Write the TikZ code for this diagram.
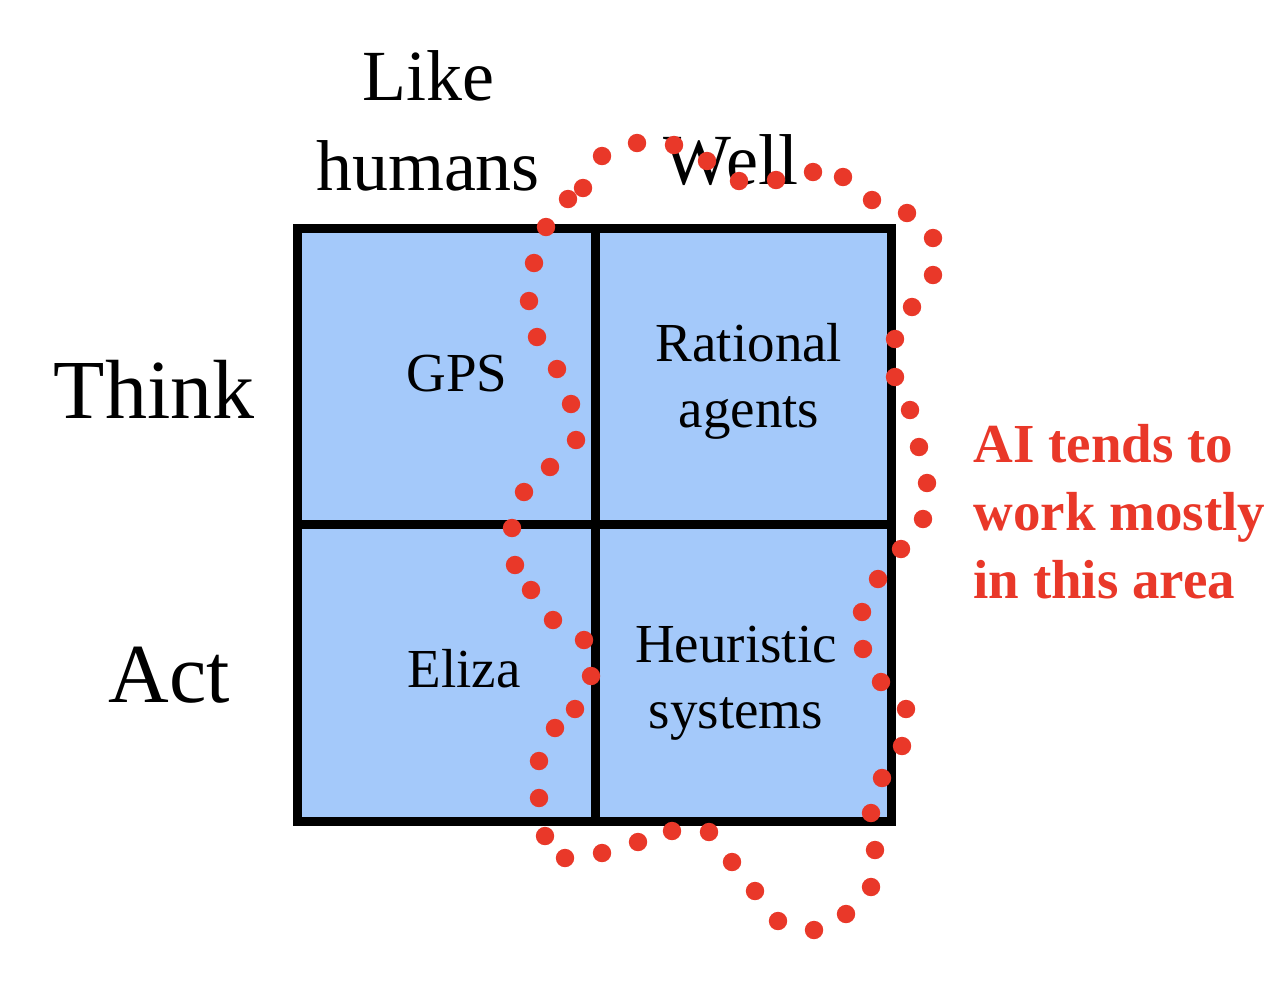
\documentclass[tikz,border=0pt]{standalone}
\usepackage{fontspec}
\setmainfont{Liberation Serif}
\definecolor{cellblue}{RGB}{164,201,250}
\definecolor{dotred}{RGB}{233,56,41}
\begin{document}
\begin{tikzpicture}[x=0.5pt,y=-0.5pt,
  gridline/.style={line width=4.5pt,draw=black},
  head/.style={font=\fontsize{36}{45}\selectfont,align=center,anchor=base,inner sep=0pt},
  side/.style={font=\fontsize{42}{50}\selectfont,anchor=base,inner sep=0pt},
  cell/.style={font=\fontsize{27.5}{33}\selectfont,align=center,anchor=base,inner sep=0pt},
  note/.style={font=\fontsize{27.5}{34}\selectfont\bfseries,text=dotred,align=left,anchor=base west,inner sep=0pt},
  reddot/.style={fill=dotred}]
\useasboundingbox (0,0) rectangle (1284,982);
% grid
\draw[gridline,fill=cellblue] (297,228) rectangle (891,821);
\coordinate (vtop) at (595,228);
\coordinate (vbot) at (595,821);
\coordinate (hleft) at (297,524);
\coordinate (hright) at (891,524);
\draw[gridline] (vtop) -- (vbot);
\draw[gridline] (hleft) -- (hright);
% headings (multi-line nodes: base = last line's baseline)
\node[head] (like) at (428,190) {Like\\humans};
\node[head] (well) at (731,184) {Well};
\node[side] (think) at (154,418) {Think};
\node[side] (act) at (169,702) {Act};
% cells
\node[cell] (gps) at (457,391) {GPS};
\node[cell] (eliza) at (464,687) {Eliza};
\node[cell] (rational) at (749,427) {Rational\\agents};
\node[cell] (heur) at (736,728) {Heuristic\\systems};
% note
\node[note] (note) at (973,598) {AI tends to\\work mostly\\in this area};
% dotted outline
\foreach \p in {(568,199),(583,188),(602,156),(637,143),(674,145),(707,161),(739,181),(776,180),(813,172),(843,177),(872,200),(907,213),(933,238),(933,275),(912,307),(895,339),(895,377),(910,410),(919,447),(927,483),(923,519),(901,549),(878,579),(862,612),(863,649),(881,682),(906,709),(902,746),(882,778),(871,813),(875,850),(871,887),(846,914),(814,930),(778,921),(755,891),(732,862),(709,832),(672,831),(638,842),(602,853),(565,858),(545,836),(539,798),(539,761),(555,728),(575,709),(591,676),(584,640),(553,620),(531,590),(515,565),(512,528),(524,492),(550,467),(576,440),(571,404),(557,369),(537,337),(529,301),(534,263),(546,227)}
  \fill[reddot] \p circle[radius=4.6pt];
\end{tikzpicture}
\end{document}
